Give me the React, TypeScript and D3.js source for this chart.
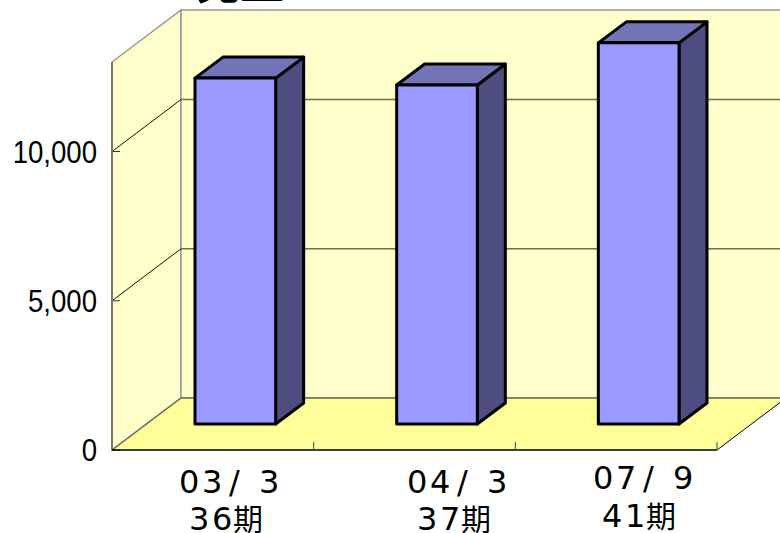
import React from "react";
import * as d3 from "d3";

const periods = ["03/ 3", "04/ 3", "07/ 9"];
const termNumbers = ["36", "37", "41"];
const termSuffix = "期";
const sales = [11590, 11360, 12770];
const yTicks = [0, 5000, 10000];
const yMax = 13000;

const W = 780;
const H = 533;
const plot = { left: 112, right: 717, front: 450, top: 62 };
const depth = { dx: 69, dy: -52 };
const barDepth = { dx: 28, dy: -21 };
const barInset = { dx: 22.5, dy: -26 };
const catFont = "'DejaVu Sans','Noto Sans CJK JP'";

const pts = (p: [number, number][]) => p.map((q) => q.join(",")).join(" ");

export default function App() {
  const y = d3.scaleLinear().domain([0, yMax]).range([plot.front, plot.top]);
  const x = d3
    .scaleBand<string>()
    .domain(periods)
    .range([plot.left, plot.right])
    .paddingInner(0.6)
    .paddingOuter(0.3);
  const catEdges = d3.range(0, periods.length + 1).map((i) =>
    plot.left + (i * (plot.right - plot.left)) / periods.length
  );
  const bl = plot.left + depth.dx;
  const bBottom = plot.front + depth.dy;
  const bTop = plot.top + depth.dy;
  const br = plot.right + depth.dx;
  const labelPos = [
    { xa: 179, ya: 493, xb: 189, yb: 530 },
    { xa: 407, ya: 493, xb: 417, yb: 530 },
    { xa: 593, ya: 489, xb: 602, yb: 527 },
  ];
  return (
    <svg
      width={W}
      height={H}
      viewBox={`0 0 ${W} ${H}`}
      style={{ position: "absolute", left: 0, top: 0, background: "#fff" }}
    >
      <text x={196} y={-1} fontFamily="'Noto Sans CJK JP'" fontWeight={700} fontSize={44}>
        売上
      </text>

      {/* side wall, back wall, floor */}
      <polygon
        points={pts([
          [plot.left, plot.front],
          [plot.left, plot.top],
          [bl, bTop],
          [bl, bBottom],
        ])}
        fill="#ffffcc"
        stroke="#969696"
        strokeWidth={1.5}
      />
      <rect x={bl} y={bTop} width={br - bl} height={bBottom - bTop} fill="#ffffcc" stroke="#969696" strokeWidth={1.5} />
      <polygon
        points={pts([
          [plot.left, plot.front],
          [plot.right, plot.front],
          [br, bBottom],
          [bl, bBottom],
        ])}
        fill="#ffff99"
      />

      {/* gridlines across both walls, with value labels */}
      {yTicks.map((t) => (
        <g key={t}>
          <line
            x1={plot.left}
            y1={y(t)}
            x2={bl}
            y2={y(t) + depth.dy}
            stroke={t === 0 ? "#666666" : "#111"}
            strokeWidth={t === 0 ? 1.5 : 1}
          />
          <line
            x1={bl}
            y1={y(t) + depth.dy}
            x2={br}
            y2={y(t) + depth.dy}
            stroke={t === 0 ? "#666666" : "#6e6e4e"}
            strokeWidth={1.5}
          />
          <line x1={plot.left} x2={plot.left + 8} y1={y(t)} y2={y(t)} stroke="#333" strokeWidth={1} />
          <text
            transform={`translate(97,${y(t) + 11}) scale(0.89,1)`}
            textAnchor="end"
            fontFamily="'Liberation Sans'"
            fontSize={31}
            fill="#000"
          >
            {d3.format(",")(t)}
          </text>
        </g>
      ))}

      <line x1={plot.left} x2={plot.left} y1={plot.top} y2={plot.front} stroke="#777" strokeWidth={2} />
      <line x1={plot.left} x2={plot.right} y1={plot.front} y2={plot.front} stroke="#000" strokeWidth={1.5} />
      <line x1={plot.right} x2={br} y1={plot.front} y2={bBottom} stroke="#000" strokeWidth={1} />
      {catEdges.slice(1).map((e) => (
        <line key={e} x1={e} x2={e} y1={plot.front} y2={plot.front - 8} stroke="#444" strokeWidth={1} />
      ))}

      {/* bars */}
      {periods.map((p, i) => {
        const x0 = (x(p) as number) + barInset.dx;
        const x1 = x0 + x.bandwidth();
        const yb = plot.front + barInset.dy;
        const yt = y(sales[i]) + barInset.dy;
        const { dx, dy } = barDepth;
        return (
          <g key={p} stroke="#000" strokeWidth={3} strokeLinejoin="round">
            <polygon
              points={pts([
                [x1, yb],
                [x1 + dx, yb + dy],
                [x1 + dx, yt + dy],
                [x1, yt],
              ])}
              fill="#4d4d7f"
            />
            <polygon
              points={pts([
                [x0, yt],
                [x0 + dx, yt + dy],
                [x1 + dx, yt + dy],
                [x1, yt],
              ])}
              fill="#7373b8"
            />
            <rect x={x0} y={yt} width={x1 - x0} height={yb - yt} fill="#9999ff" />
          </g>
        );
      })}

      {/* category labels: period above, fiscal term below */}
      {periods.map((p, i) => {
        const pos = labelPos[i];
        return (
          <g key={p} fontFamily={catFont} fontSize={32} fill="#000">
            <text x={pos.xa} y={pos.ya} letterSpacing={2.6} style={{ whiteSpace: "pre" }}>
              <tspan>{p.slice(0, 2)}</tspan>
              <tspan dx={4}>{p[2]}</tspan>
              <tspan>{p[3]}</tspan>
              <tspan dx={4}>{p[4]}</tspan>
            </text>
            <text x={pos.xb} y={pos.yb} letterSpacing={2.6}>
              <tspan>{termNumbers[i]}</tspan>
              <tspan fontSize={30} dx={-2}>{termSuffix}</tspan>
            </text>
          </g>
        );
      })}
    </svg>
  );
}
